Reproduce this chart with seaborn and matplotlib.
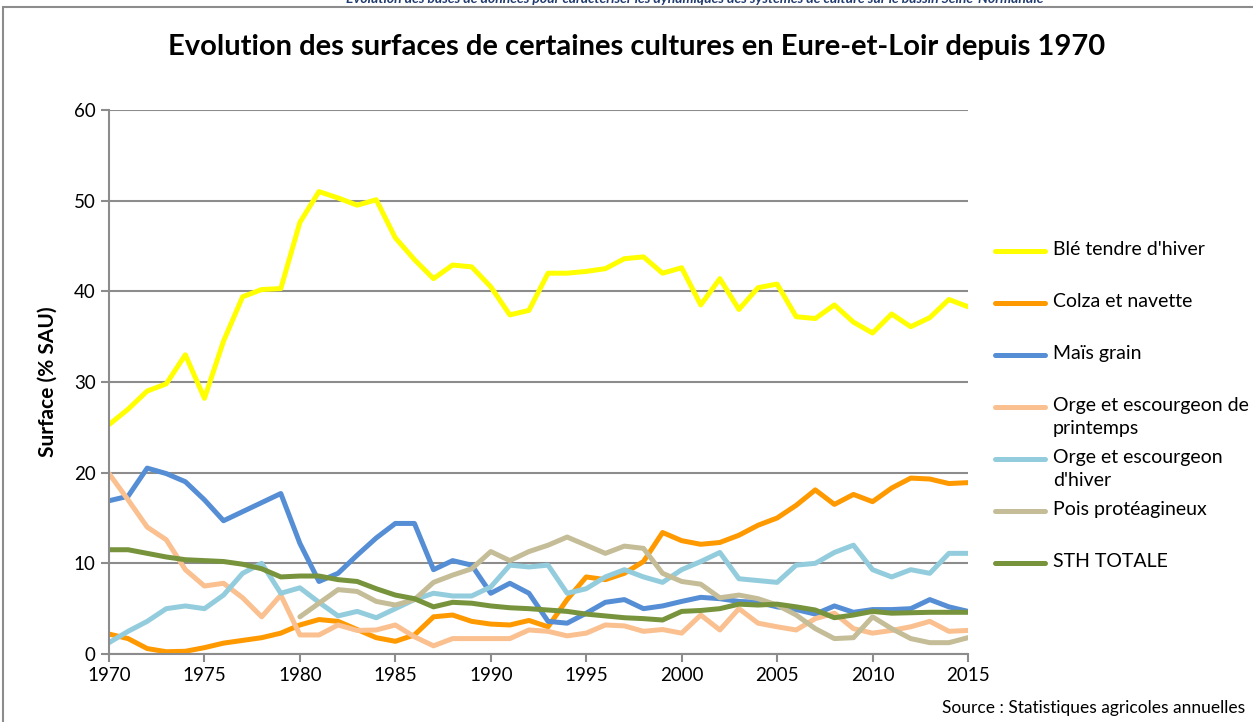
import numpy as np
import pandas as pd
import matplotlib
matplotlib.use("Agg")
import matplotlib.pyplot as plt
import seaborn as sns
from matplotlib.lines import Line2D
from matplotlib.patches import Rectangle

years = list(range(1970, 2016))

ble = [25.3, 27.0, 29.0, 29.8, 33.0, 28.2, 34.5, 39.4, 40.2, 40.3,
       47.6, 51.0, 50.3, 49.5, 50.1, 45.9, 43.5, 41.4, 42.9, 42.7,
       40.5, 37.4, 37.9, 42.0, 42.0, 42.2, 42.5, 43.6, 43.8, 42.0,
       42.6, 38.5, 41.4, 38.0, 40.4, 40.8, 37.2, 37.0, 38.5, 36.6,
       35.4, 37.5, 36.1, 37.1, 39.1, 38.3]
colza = [2.2, 1.7, 0.6, 0.25, 0.3, 0.7, 1.2, 1.5, 1.8, 2.3,
         3.2, 3.8, 3.6, 2.7, 1.8, 1.4, 2.1, 4.1, 4.3, 3.6,
         3.3, 3.2, 3.7, 3.0, 6.0, 8.5, 8.2, 8.9, 10.2, 13.4,
         12.5, 12.1, 12.3, 13.1, 14.2, 15.0, 16.4, 18.1, 16.5, 17.6,
         16.8, 18.3, 19.4, 19.3, 18.8, 18.9]
mais = [16.9, 17.4, 20.5, 19.9, 19.0, 17.0, 14.7, 15.7, 16.7, 17.7,
        12.2, 8.0, 8.9, 10.9, 12.8, 14.4, 14.4, 9.3, 10.3, 9.8,
        6.7, 7.8, 6.7, 3.6, 3.4, 4.5, 5.7, 6.0, 5.0, 5.3,
        5.8, 6.25, 6.1, 5.8, 5.7, 5.2, 4.9, 4.4, 5.3, 4.6,
        4.9, 4.9, 5.0, 6.0, 5.2, 4.7]
orge_p = [19.9, 17.0, 14.0, 12.6, 9.3, 7.5, 7.8, 6.2, 4.1, 6.5,
          2.1, 2.1, 3.2, 2.6, 2.65, 3.2, 1.9, 0.9, 1.7, 1.7,
          1.7, 1.7, 2.65, 2.5, 2.0, 2.3, 3.2, 3.1, 2.5, 2.7,
          2.3, 4.3, 2.65, 5.0, 3.4, 3.0, 2.65, 3.9, 4.5, 2.8,
          2.3, 2.6, 3.0, 3.6, 2.5, 2.6]
orge_h = [1.25, 2.5, 3.6, 5.0, 5.3, 5.0, 6.5, 8.9, 10.0, 6.7,
          7.3, 5.7, 4.2, 4.7, 4.0, 5.0, 6.0, 6.7, 6.4, 6.4,
          7.4, 9.8, 9.6, 9.8, 6.7, 7.2, 8.5, 9.3, 8.5, 7.9,
          9.3, 10.2, 11.2, 8.3, 8.1, 7.9, 9.8, 10.0, 11.2, 12.0,
          9.3, 8.5, 9.3, 8.9, 11.1, 11.1]
pois = [np.nan] * 10 + [4.1, 5.6, 7.1, 6.9, 5.8, 5.4, 6.0, 7.9, 8.7, 9.4,
        11.3, 10.3, 11.3, 12.0, 12.9, 12.0, 11.1, 11.9, 11.65, 8.9,
        8.0, 7.7, 6.2, 6.5, 6.1, 5.4, 4.3, 2.8, 1.7, 1.8,
        4.1, 2.8, 1.7, 1.25, 1.25, 1.8]
sth = [11.5, 11.5, 11.1, 10.7, 10.4, 10.3, 10.2, 9.9, 9.4, 8.5,
       8.6, 8.6, 8.2, 8.0, 7.2, 6.5, 6.1, 5.2, 5.7, 5.6,
       5.3, 5.1, 5.0, 4.85, 4.7, 4.4, 4.2, 4.0, 3.9, 3.75,
       4.7, 4.8, 5.0, 5.5, 5.4, 5.5, 5.2, 4.85, 4.0, 4.3,
       4.7, 4.5, 4.55, 4.6, 4.6, 4.6]

series_names = ["Blé tendre d'hiver", "Colza et navette", "Maïs grain",
                "Orge et escourgeon de printemps", "Orge et escourgeon d'hiver",
                "Pois protéagineux", "STH TOTALE"]
legend_labels = ["Blé tendre d'hiver", "Colza et navette", "Maïs grain",
                 "Orge et escourgeon de\nprintemps", "Orge et escourgeon\nd'hiver",
                 "Pois protéagineux", "STH TOTALE"]
colors = ["#FFFF00", "#FF9900", "#558ED5", "#FAC090", "#93CDDD", "#C4BD97", "#77933C"]
values = [ble, colza, mais, orge_p, orge_h, pois, sth]

title = "Evolution des surfaces de certaines cultures en Eure-et-Loir depuis 1970"
header = ("Evolution des bases de données pour caractériser les dynamiques des "
          "systèmes de culture sur le bassin Seine-Normandie")
ylabel = "Surface (% SAU)"
source = "Source : Statistiques agricoles annuelles"

df = pd.concat([pd.DataFrame({"year": years, "value": v, "serie": n})
                for n, v in zip(series_names, values)], ignore_index=True)

sns.set_theme(style="white")
plt.rcParams['font.family'] = ['Lato', 'DejaVu Sans']
plt.rcParams['text.color'] = 'black'
plt.rcParams['axes.labelcolor'] = 'black'

W, H = 1253, 722
fig = plt.figure(figsize=(W / 100, H / 100), dpi=100)
ax = fig.add_axes([109 / W, 1 - 654 / H, (968 - 109) / W, (654 - 110) / H])

sns.lineplot(data=df, x="year", y="value", hue="serie", hue_order=series_names,
             palette=colors, linewidth=3.6, ax=ax, legend=False,
             solid_joinstyle="round", solid_capstyle="round")

ax.set_xlim(1970, 2015)
ax.set_ylim(0, 60)
ax.set_xticks(range(1970, 2016, 5))
ax.set_yticks(range(0, 61, 10))
ax.yaxis.grid(True, color="#8C8C8C", linewidth=1.5)
ax.set_axisbelow(True)
for s in ["top", "right"]:
    ax.spines[s].set_visible(False)
for s in ["left", "bottom"]:
    ax.spines[s].set_color("#8C8C8C")
    ax.spines[s].set_linewidth(1.5)
ax.tick_params(axis="both", which="major", direction="out", length=6, width=1.5,
               color="#8C8C8C", labelsize=13.5, labelcolor="black", left=True, bottom=True)
ax.set_xlabel("")
ax.set_ylabel(ylabel, fontsize=15, fontweight="bold", labelpad=12)

fig.text(637 / W, 1 - 47 / H, title, ha="center", va="center",
         fontsize=21, fontweight="bold")
fig.text(695 / W, 1 - 3 / H, header, ha="center", va="baseline",
         fontsize=10, fontweight="bold", style="italic", color="#1F3A6E")
fig.text(1245 / W, 1 - 708 / H, source, ha="right", va="center", fontsize=12.5)

# frame
fig.add_artist(Rectangle((3 / W, -0.2), 1.2, 1.2 - 7 / H, transform=fig.transFigure,
                         fill=False, edgecolor="#8C8C8C", linewidth=1.5))

# legend
y0 = 251
for i, (lab, col) in enumerate(zip(legend_labels, colors)):
    yy = y0 + 52 * i
    fig.add_artist(Line2D([995 / W, 1045 / W], [1 - yy / H, 1 - yy / H],
                          transform=fig.transFigure, color=col, linewidth=3.6,
                          solid_capstyle="round"))
    fig.text(1053 / W, 1 - (yy - 10) / H, lab, ha="left", va="top",
             fontsize=14, linespacing=1.45)

fig.savefig("out.png", dpi=100)
